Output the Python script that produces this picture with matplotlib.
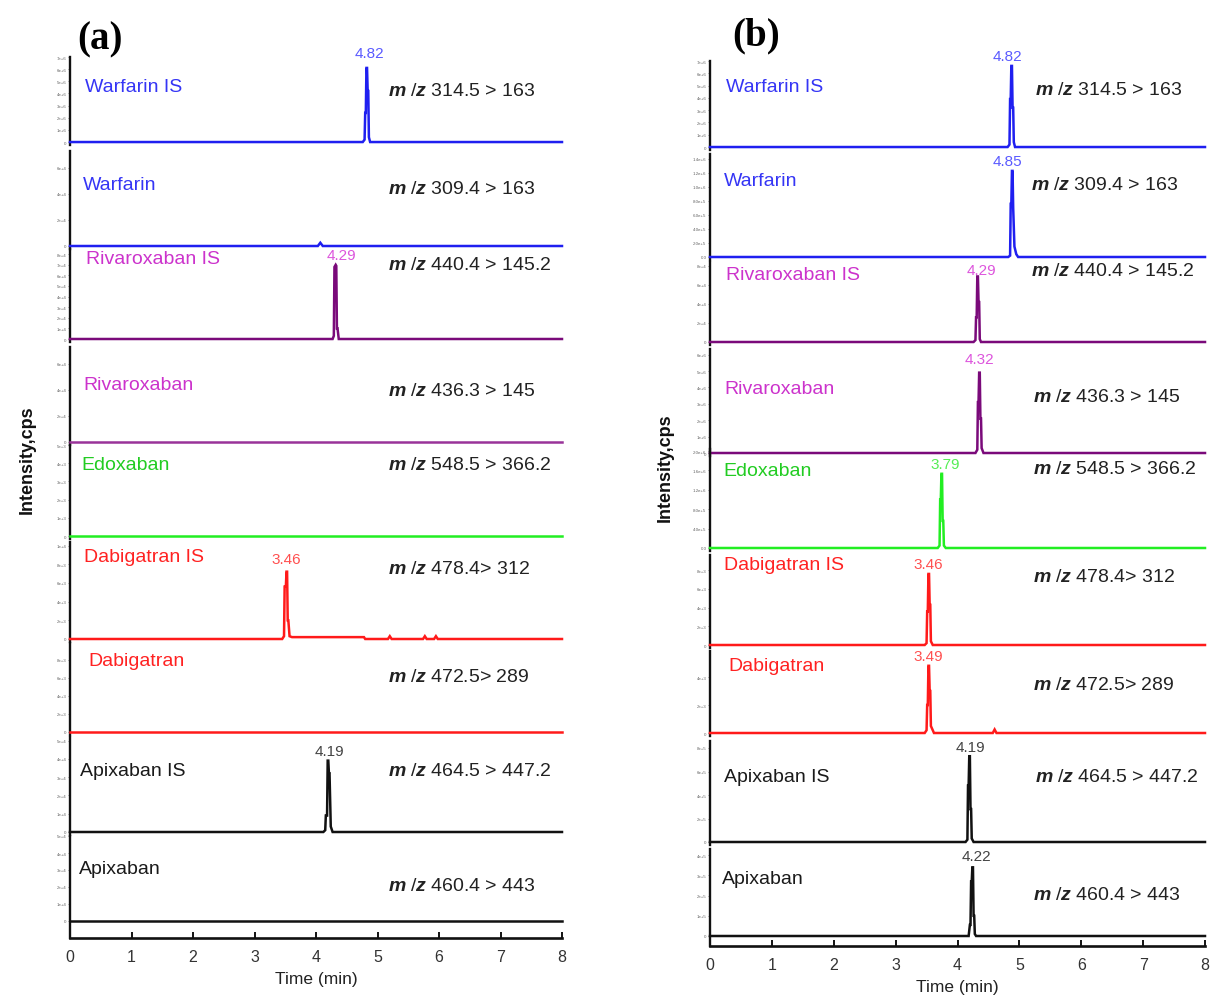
import matplotlib
matplotlib.use("Agg")
import matplotlib.pyplot as plt

# ---------------- data ----------------
compounds = ["Warfarin IS", "Warfarin", "Rivaroxaban IS", "Rivaroxaban", "Edoxaban",
             "Dabigatran IS", "Dabigatran", "Apixaban IS", "Apixaban"]
transitions = ["314.5 > 163", "309.4 > 163", "440.4 > 145.2", "436.3 > 145", "548.5 > 366.2",
               "478.4> 312", "472.5> 289", "464.5 > 447.2", "460.4 > 443"]
time_ticks = [0, 1, 2, 3, 4, 5, 6, 7, 8]

# panel (a): blank sample with IS
a_wis_t = [0, 4.76, 4.79, 4.80, 4.81, 4.82, 4.83, 4.84, 4.85, 4.86, 4.88, 8]
a_wis_y = [0, 0, 0.2e6, 2.4e6, 2.4e6, 6.1e6, 6.1e6, 4.2e6, 4.2e6, 0.4e6, 0, 0]
a_war_t = [0, 4.03, 4.07, 4.11, 8]
a_war_y = [0, 0, 0.25e4, 0, 0]
a_ris_t = [0, 4.27, 4.29, 4.30, 4.32, 4.33, 4.34, 4.35, 4.37, 8]
a_ris_y = [0, 0, 0.3e4, 6.8e4, 7.0e4, 6.9e4, 1.0e4, 1.0e4, 0, 0]
a_riv_t = [0, 8]
a_riv_y = [0, 0]
a_edo_t = [0, 8]
a_edo_y = [0, 0]
a_dis_t = [0, 3.45, 3.48, 3.49, 3.51, 3.52, 3.53, 3.54, 3.55, 3.57, 3.61, 4.78, 4.80,
           5.17, 5.20, 5.23, 5.74, 5.77, 5.80, 5.92, 5.95, 5.98, 8]
a_dis_y = [0, 0, 0.3e3, 5.6e3, 5.6e3, 7.2e3, 7.2e3, 2.0e3, 2.0e3, 0.3e3, 0.2e3, 0.2e3, 0,
           0, 0.3e3, 0, 0, 0.3e3, 0, 0, 0.3e3, 0, 0]
a_dab_t = [0, 8]
a_dab_y = [0, 0]
a_ais_t = [0, 4.12, 4.15, 4.16, 4.18, 4.19, 4.20, 4.21, 4.22, 4.24, 4.27, 8]
a_ais_y = [0, 0, 0.1e4, 0.9e4, 0.9e4, 3.9e4, 3.9e4, 3.2e4, 3.2e4, 0.3e4, 0, 0]
a_apx_t = [0, 8]
a_apx_y = [0, 0]

# panel (b): spiked sample
b_wis_t = [0, 4.81, 4.84, 4.85, 4.86, 4.87, 4.88, 4.89, 4.90, 4.91, 4.93, 8]
b_wis_y = [0, 0, 0.2e6, 3.9e6, 3.9e6, 6.6e6, 6.6e6, 3.2e6, 3.2e6, 0.4e6, 0, 0]
b_war_t = [0, 4.82, 4.85, 4.86, 4.87, 4.88, 4.89, 4.90, 4.92, 4.95, 4.98, 8]
b_war_y = [0, 0, 0.2e5, 7.6e5, 7.6e5, 12.3e5, 12.3e5, 7.0e5, 1.5e5, 0.4e5, 0, 0]
b_ris_t = [0, 4.26, 4.29, 4.30, 4.31, 4.32, 4.33, 4.34, 4.35, 4.36, 4.38, 8]
b_ris_y = [0, 0, 0.2e4, 2.6e4, 2.6e4, 6.9e4, 6.9e4, 4.2e4, 4.2e4, 0.3e4, 0, 0]
b_riv_t = [0, 4.29, 4.32, 4.33, 4.34, 4.35, 4.36, 4.37, 4.38, 4.39, 4.42, 8]
b_riv_y = [0, 0, 0.2e6, 3.1e6, 3.1e6, 4.9e6, 4.9e6, 2.1e6, 2.1e6, 0.3e6, 0, 0]
b_edo_t = [0, 3.68, 3.71, 3.72, 3.73, 3.74, 3.75, 3.76, 3.77, 3.78, 3.81, 8]
b_edo_y = [0, 0, 0.05e6, 1.0e6, 1.0e6, 1.53e6, 1.53e6, 0.56e6, 0.56e6, 0.05e6, 0, 0]
b_dis_t = [0, 3.47, 3.50, 3.51, 3.52, 3.53, 3.54, 3.55, 3.56, 3.57, 3.60, 8]
b_dis_y = [0, 0, 0.2e3, 3.6e3, 3.6e3, 7.6e3, 7.6e3, 4.3e3, 4.3e3, 0.4e3, 0, 0]
b_dab_t = [0, 3.47, 3.50, 3.51, 3.52, 3.53, 3.54, 3.55, 3.56, 3.57, 3.62, 4.57, 4.60, 4.63, 8]
b_dab_y = [0, 0, 0.2e3, 2.0e3, 2.0e3, 4.8e3, 4.8e3, 3.0e3, 3.0e3, 0.5e3, 0, 0, 0.25e3, 0, 0]
b_ais_t = [0, 4.13, 4.16, 4.17, 4.18, 4.19, 4.20, 4.21, 4.22, 4.23, 4.26, 8]
b_ais_y = [0, 0, 0.2e5, 4.8e5, 4.8e5, 7.3e5, 7.3e5, 2.8e5, 2.8e5, 0.3e5, 0, 0]
b_apx_t = [0, 4.18, 4.20, 4.21, 4.22, 4.23, 4.24, 4.25, 4.26, 4.27, 4.28, 4.30, 8]
b_apx_y = [0, 0, 0.55e5, 0.55e5, 2.7e5, 2.7e5, 3.4e5, 3.4e5, 1.0e5, 1.0e5, 0.1e5, 0, 0]

a_traces = [(a_wis_t, a_wis_y), (a_war_t, a_war_y), (a_ris_t, a_ris_y), (a_riv_t, a_riv_y),
            (a_edo_t, a_edo_y), (a_dis_t, a_dis_y), (a_dab_t, a_dab_y), (a_ais_t, a_ais_y),
            (a_apx_t, a_apx_y)]
b_traces = [(b_wis_t, b_wis_y), (b_war_t, b_war_y), (b_ris_t, b_ris_y), (b_riv_t, b_riv_y),
            (b_edo_t, b_edo_y), (b_dis_t, b_dis_y), (b_dab_t, b_dab_y), (b_ais_t, b_ais_y),
            (b_apx_t, b_apx_y)]
a_peak_labels = ["4.82", None, "4.29", None, None, "3.46", None, "4.19", None]
b_peak_labels = ["4.82", "4.85", "4.29", "4.32", "3.79", "3.46", "3.49", "4.19", "4.22"]

# y tick steps and counts (intensity, cps)
a_tick_step = [1e6, 2e4, 1e4, 2e4, 1e3, 2e3, 2e3, 1e4, 1e4]
a_tick_n = [8, 4, 9, 4, 6, 6, 5, 6, 6]
b_tick_step = [1e6, 2e5, 2e4, 1e6, 4e5, 2e3, 2e3, 2e5, 1e5]
b_tick_n = [8, 8, 5, 7, 6, 5, 3, 5, 5]
b_tick_dec = [0, 1, 0, 0, 1, 0, 0, 0, 0]

# ---------------- layout / style ----------------
W, H = 1211, 1003
plt.rcParams["font.family"] = ["Liberation Sans", "DejaVu Sans"]
plt.rcParams["mathtext.fontset"] = "custom"
plt.rcParams["mathtext.it"] = "Liberation Sans:italic:bold"
plt.rcParams["mathtext.rm"] = "Liberation Sans"
plt.rcParams["mathtext.bf"] = "Liberation Sans:bold"

trace_col = ["#1f1ff0", "#1f1ff0", "#7a0a7a", "#993399", "#22ee22",
             "#ff1a1a", "#ff1a1a", "#111111", "#111111"]
trace_col_b = ["#1f1ff0", "#1f1ff0", "#7a0a7a", "#7a0a7a", "#22ee22",
               "#ff1a1a", "#ff1a1a", "#111111", "#111111"]
name_col = ["#3535f5", "#3535f5", "#cc33cc", "#cc33cc", "#22cc22",
            "#ff2222", "#ff2222", "#1a1a1a", "#1a1a1a"]
label_col = ["#5a5aff", "#5a5aff", "#dd55dd", "#dd55dd", "#55ee55",
             "#ff5050", "#ff5050", "#444444", "#444444"]

panels = {
    "a": dict(x0=70, x8=562,
              base=[143, 247, 340, 443, 537, 640, 733, 833, 922],
              top=[58, 152, 250, 348, 446, 543, 644, 738, 837],
              tick_px=[12.3, 26, 10.6, 26, 19, 18.7, 18, 18.3, 17],
              axis_y=939,
              name_x=[85, 83, 86, 83, 81, 84, 88, 80, 79],
              name_y=[88, 186, 260, 386, 466, 558, 662, 772, 870],
              mz_x=[388] * 9,
              mz_y=[92, 190, 265, 392, 466, 570, 678, 772, 887],
              lab_off=[(2, 11), None, (4, 7), None, None, (0, 9), None, (1, 7), None]),
    "b": dict(x0=710, x8=1205,
              base=[148, 258, 343, 454, 549, 646, 734, 843, 937],
              top=[62, 155, 263, 350, 450, 556, 652, 742, 850],
              tick_px=[12.4, 14, 19, 16.4, 19.4, 18.7, 28, 23.5, 20.2],
              axis_y=947,
              name_x=[726, 724, 726, 724, 723, 724, 728, 724, 722],
              name_y=[87, 181, 276, 390, 471, 565, 667, 778, 880],
              mz_x=[1035, 1031, 1031, 1033, 1033, 1033, 1033, 1035, 1033],
              mz_y=[91, 185, 272, 397, 470, 577, 686, 778, 896],
              lab_off=[(-3, 7), (-3, 7), (3, 5), (0, 10), (3, 7), (0, 7), (0, 7), (1, 7), (3, 8)]),
}


def fmt_tick(v, dec):
    if v == 0:
        return "0.0" if dec else "0"
    s = f"{v:.{dec}e}"
    mant, exp = s.split("e")
    return f"{mant}e{exp[0]}{int(exp[1:])}"


fig = plt.figure(figsize=(W / 100, H / 100), dpi=100)

for key, traces, plabels in (("a", a_traces, a_peak_labels), ("b", b_traces, b_peak_labels)):
    P = panels[key]
    x0, x8 = P["x0"], P["x8"]
    steps = a_tick_step if key == "a" else b_tick_step
    nticks = a_tick_n if key == "a" else b_tick_n
    decs = [0] * 9 if key == "a" else b_tick_dec
    tcols = trace_col if key == "a" else trace_col_b
    for i in range(9):
        base = P["base"][i]
        top = P["top"][i]
        last = (i == 8)
        bottom = P["axis_y"] if last else base + 3
        ppu = P["tick_px"][i] / steps[i]
        ax = fig.add_axes([x0 / W, 1 - bottom / H, (x8 - x0) / W, (bottom - top) / H])
        ax.set_xlim(0, 8)
        ax.set_ylim(-(bottom - base) / ppu, (base - top) / ppu)
        t, y = traces[i]
        ax.plot(t, y, color=tcols[i], lw=1.8, solid_joinstyle="miter", clip_on=False, zorder=3)
        for s in ("top", "right"):
            ax.spines[s].set_visible(False)
        ax.spines["left"].set_linewidth(1.7)
        ax.spines["left"].set_color("#111111")
        yt = [k * steps[i] for k in range(nticks[i])]
        ax.set_yticks(yt)
        ax.set_yticklabels([fmt_tick(v, decs[i]) for v in yt])
        ax.tick_params(axis="y", labelsize=3.2, labelcolor="#666666", length=1.5, width=0.5,
                       pad=1, colors="#666666")
        ax.patch.set_alpha(0)
        if last:
            ax.spines["bottom"].set_linewidth(1.9)
            ax.spines["bottom"].set_color("#111111")
            ax.set_xticks(time_ticks)
            ax.tick_params(axis="x", direction="in", length=4, width=1.3, labelsize=11.5,
                           labelcolor="#333333", pad=8)
            ax.set_xlabel("Time (min)", fontsize=12.5, color="#222222", labelpad=5)
        else:
            ax.spines["bottom"].set_visible(False)
            ax.set_xticks([])
        if plabels[i]:
            k = max(range(len(y)), key=lambda j: y[j])
            dx, dy = P["lab_off"][i]
            ax.annotate(plabels[i], (t[k], y[k]), xytext=(dx, dy), textcoords="offset points",
                        ha="center", va="center", fontsize=11, color=label_col[i],
                        annotation_clip=False)
        fig.text(P["name_x"][i] / W, 1 - P["name_y"][i] / H, compounds[i], fontsize=14,
                 color=name_col[i], ha="left", va="center")
        fig.text(P["mz_x"][i] / W, 1 - P["mz_y"][i] / H,
                 r"$m\;/z$ " + transitions[i], fontsize=14, color="#222222",
                 ha="left", va="center")

# y-axis labels and panel tags
fig.text(27 / W, 1 - 460 / H, "Intensity,cps", rotation=90, fontsize=13, fontweight="bold",
         ha="center", va="center", color="#111111")
fig.text(665 / W, 1 - 468 / H, "Intensity,cps", rotation=90, fontsize=13, fontweight="bold",
         ha="center", va="center", color="#111111")
fig.text(100 / W, 1 - 40 / H, "(a)", fontsize=28, fontweight="bold",
         family=["Liberation Serif", "DejaVu Serif"], ha="center", va="center")
fig.text(756 / W, 1 - 36 / H, "(b)", fontsize=28, fontweight="bold",
         family=["Liberation Serif", "DejaVu Serif"], ha="center", va="center")

fig.savefig("out.png", dpi=100, facecolor="white")
